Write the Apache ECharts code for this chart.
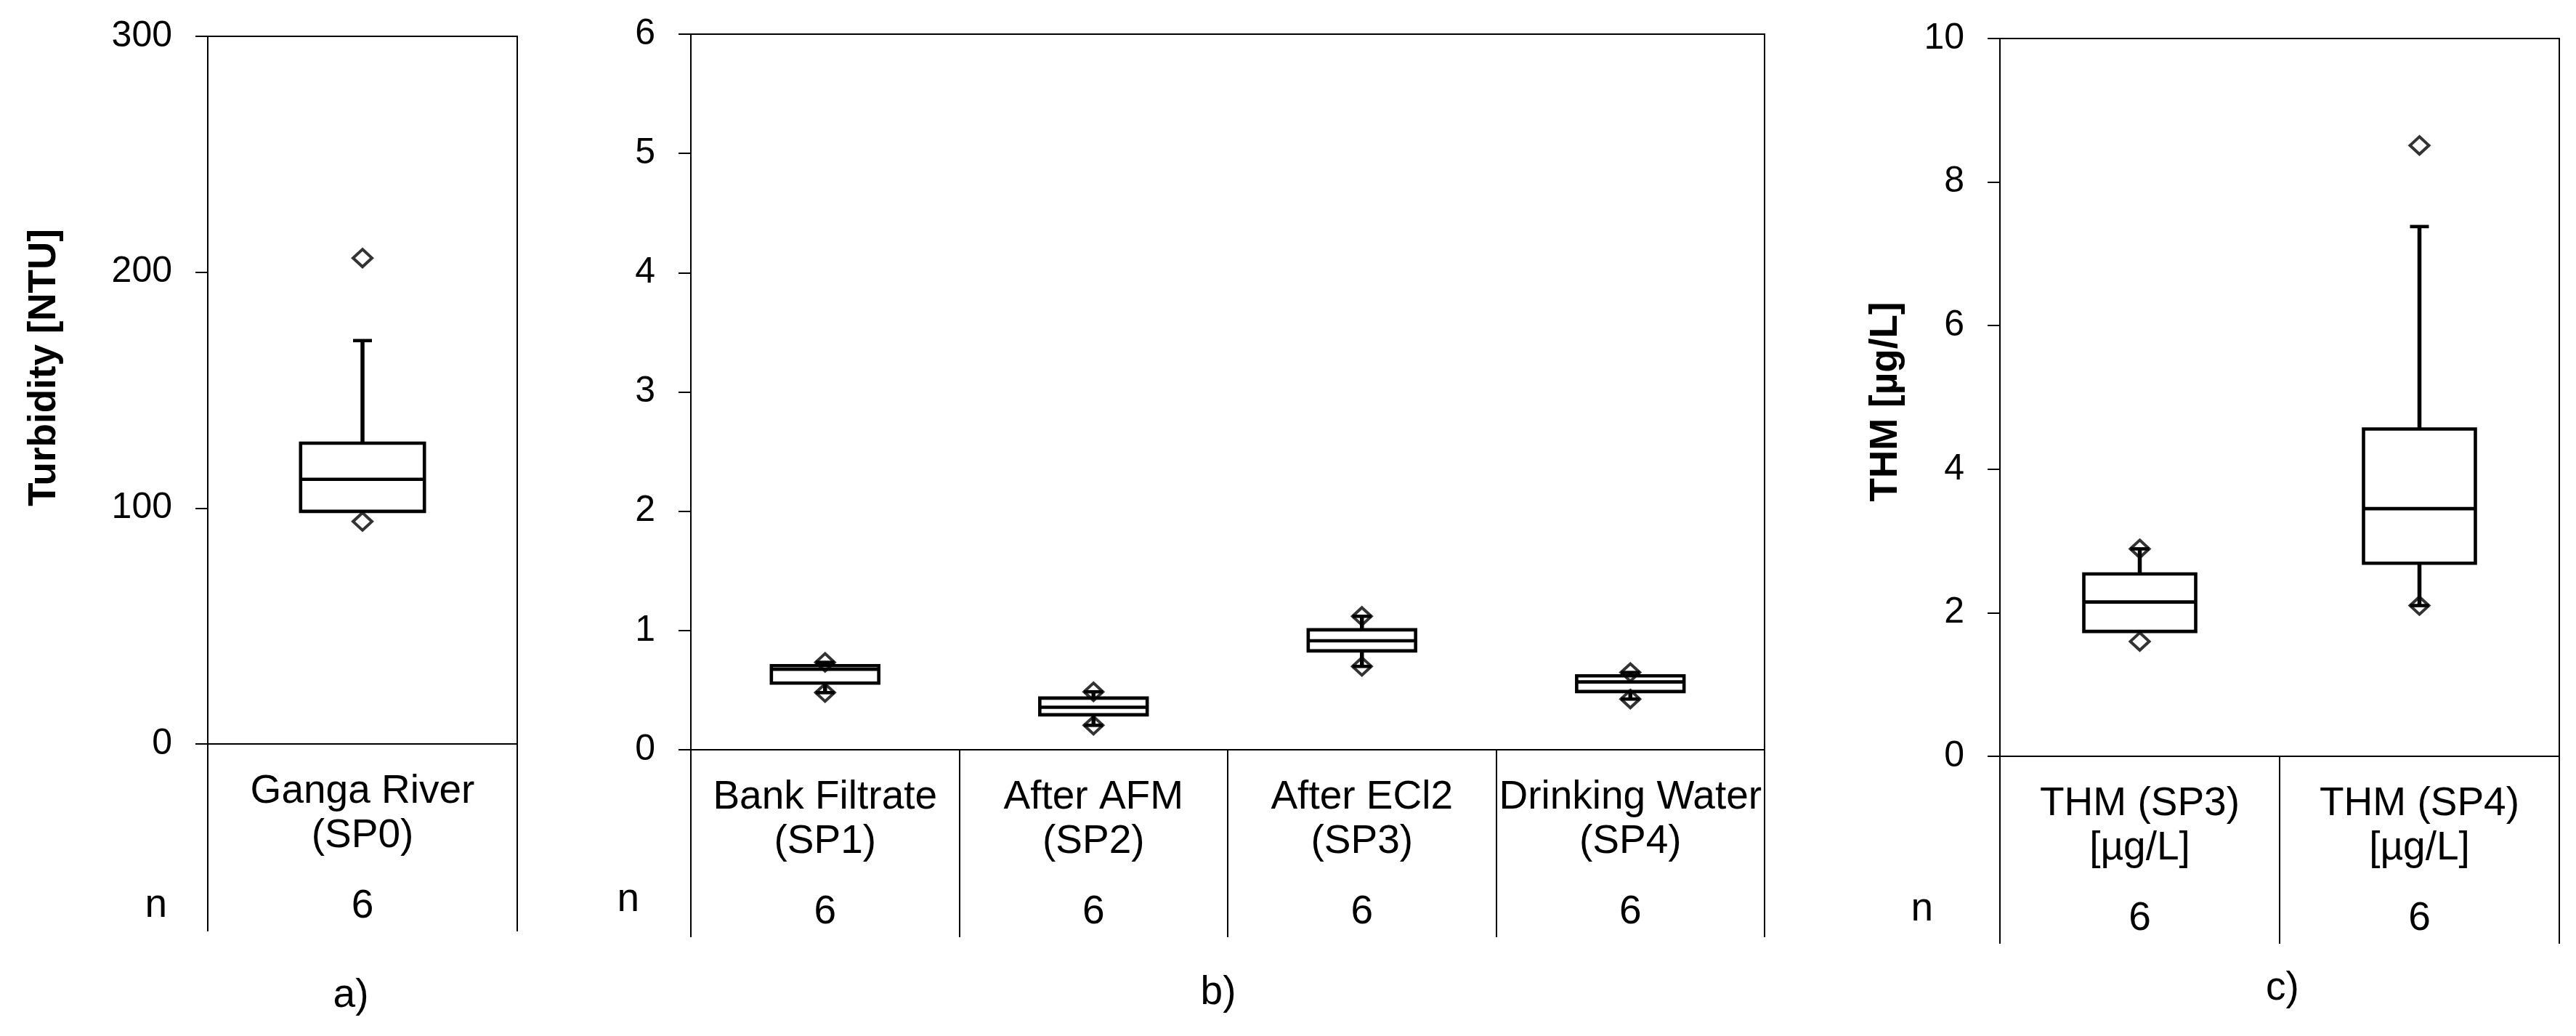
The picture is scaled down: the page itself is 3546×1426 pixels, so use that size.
<!DOCTYPE html>
<html>
<head>
<meta charset="utf-8">
<script src="https://cdn.jsdelivr.net/npm/echarts@6/dist/echarts.min.js"></script>
<style>
  html, body { margin: 0; padding: 0; background: #fff; }
  #chart { width: 3546px; height: 1426px; }
</style>
</head>
<body>
<div id="chart"></div>
<script>
// a) turbidity, Ganga River
var turbCats = ['Ganga River\n(SP0)'];
var turbN = [6];
var turbTicks = [0, 100, 200, 300];
var turbMin = [94.3];
var turbWhLow = [98.6];
var turbQ1 = [98.6];
var turbMed = [112.2];
var turbQ3 = [127.5];
var turbWhHigh = [171];
var turbMax = [206];

// b) turbidity after treatment steps
var treatCats = ['Bank Filtrate\n(SP1)', 'After AFM\n(SP2)', 'After ECl2\n(SP3)', 'Drinking Water\n(SP4)'];
var treatN = [6, 6, 6, 6];
var treatTicks = [0, 1, 2, 3, 4, 5, 6];
var treatMin = [0.479, 0.205, 0.699, 0.425];
var treatQ1 = [0.559, 0.293, 0.829, 0.488];
var treatMed = [0.675, 0.356, 0.914, 0.569];
var treatQ3 = [0.705, 0.433, 1.006, 0.620];
var treatMax = [0.733, 0.486, 1.119, 0.648];

// c) THM
var thmCats = ['THM (SP3)\n[µg/L]', 'THM (SP4)\n[µg/L]'];
var thmN = [6, 6];
var thmTicks = [0, 2, 4, 6, 8, 10];
var thmMin = [1.60, 2.10];
var thmWhLow = [1.74, 2.10];
var thmQ1 = [1.74, 2.69];
var thmMed = [2.15, 3.45];
var thmQ3 = [2.54, 4.56];
var thmWhHigh = [2.89, 7.38];
var thmMax = [2.89, 8.51];

var FONT = 'Liberation Sans, Arial, sans-serif';

function boxRows(lo, q1, med, q3, hi) {
  return q1.map(function (v, i) { return [i, lo[i], q1[i], med[i], q3[i], hi[i]]; });
}
function extremes(mn, mx) {
  var out = [];
  mn.forEach(function (v, i) { out.push([i, mn[i]]); out.push([i, mx[i]]); });
  return out;
}

// box + whiskers, positioned through the axes of the grid
function renderBox(params, api) {
  var i = api.value(0);
  var lo = api.coord([i, api.value(1)]);
  var q1 = api.coord([i, api.value(2)]);
  var md = api.coord([i, api.value(3)]);
  var q3 = api.coord([i, api.value(4)]);
  var hi = api.coord([i, api.value(5)]);
  var cx = q1[0];
  var bw = api.size([1, 0])[0] * 0.40;
  var cap = 13;
  var st = { stroke: '#000', lineWidth: 4.6, fill: null };
  var wh = { stroke: '#000', lineWidth: 5.5, fill: null };
  var kids = [];
  if (hi[1] < q3[1] - 1) {
    kids.push({ type: 'line', shape: { x1: cx, y1: q3[1], x2: cx, y2: hi[1] }, style: wh });
    kids.push({ type: 'line', shape: { x1: cx - cap, y1: hi[1], x2: cx + cap, y2: hi[1] }, style: st });
  }
  if (lo[1] > q1[1] + 1) {
    kids.push({ type: 'line', shape: { x1: cx, y1: q1[1], x2: cx, y2: lo[1] }, style: wh });
    kids.push({ type: 'line', shape: { x1: cx - cap, y1: lo[1], x2: cx + cap, y2: lo[1] }, style: st });
  }
  kids.push({ type: 'rect', shape: { x: cx - bw / 2, y: q3[1], width: bw, height: q1[1] - q3[1] },
    style: { stroke: '#000', lineWidth: 4.6, fill: '#fff' } });
  kids.push({ type: 'line', shape: { x1: cx - bw / 2, y1: md[1], x2: cx + bw / 2, y2: md[1] }, style: st });
  return { type: 'group', children: kids };
}

function makeGrid(left, top, width, height) {
  return { left: left, top: top, width: width, height: height, show: true,
    borderColor: '#000', borderWidth: 2, backgroundColor: 'transparent',
    containLabel: false, outerBoundsMode: 'none' };
}
function catAxis(idx, cats) {
  return {
    type: 'category', gridIndex: idx, data: cats, position: 'bottom',
    axisLine: { show: true, lineStyle: { color: '#000', width: 2 } },
    axisTick: { show: true, inside: false, length: 258, lineStyle: { color: '#000', width: 2 } },
    axisLabel: { interval: 0, margin: 35, color: '#000', fontFamily: FONT, fontSize: 55, lineHeight: 61 },
    splitLine: { show: false }
  };
}
function nAxis(idx, ns) {
  return {
    type: 'category', gridIndex: idx, data: ns.map(String), position: 'bottom', offset: 183,
    axisLine: { show: false }, axisTick: { show: false },
    axisLabel: { interval: 0, margin: 10, color: '#000', fontFamily: FONT, fontSize: 55, lineHeight: 61 },
    splitLine: { show: false }
  };
}
function valAxis(idx, ticks, name, gap, pad) {
  return {
    type: 'value', gridIndex: idx, min: ticks[0], max: ticks[ticks.length - 1],
    interval: ticks[1] - ticks[0],
    name: name, nameLocation: 'middle', nameGap: gap,
    nameTextStyle: { color: '#000', fontFamily: FONT, fontSize: 53, fontWeight: 'bold', padding: pad },
    axisLine: { show: true, lineStyle: { color: '#000', width: 2 } },
    axisTick: { show: true, inside: false, length: 17, lineStyle: { color: '#000', width: 2 } },
    axisLabel: { margin: 49, color: '#000', fontFamily: FONT, fontSize: 50 },
    splitLine: { show: false }
  };
}
function boxSeries(idx, rows) {
  return { type: 'custom', xAxisIndex: idx * 2, yAxisIndex: idx, renderItem: renderBox,
    encode: { x: 0, y: [1, 2, 3, 4, 5] }, data: rows, z: 2, silent: true };
}
function dotSeries(idx, pts) {
  return { type: 'scatter', xAxisIndex: idx * 2, yAxisIndex: idx, data: pts, z: 3, silent: true,
    symbol: 'diamond', symbolSize: [26, 24],
    itemStyle: { color: 'rgba(0,0,0,0)', borderColor: '#000', borderWidth: 4 } };
}
function txt(x, y, s, align) {
  return { type: 'text', x: x, y: y, style: { text: s, fill: '#000', font: '55px ' + FONT,
    textAlign: align, textVerticalAlign: 'middle', align: align, verticalAlign: 'middle' } };
}

var chart = echarts.init(document.getElementById('chart'), null, { renderer: 'canvas' });

var option = {
  backgroundColor: '#fff',
  animation: false,
  grid: [
    makeGrid(286, 50, 426, 974),
    makeGrid(951, 47, 1478, 985),
    makeGrid(2753, 53, 770, 988)
  ],
  xAxis: [
    catAxis(0, turbCats), nAxis(0, turbN),
    catAxis(1, treatCats), nAxis(1, treatN),
    catAxis(2, thmCats), nAxis(2, thmN)
  ],
  yAxis: [
    valAxis(0, turbTicks, 'Turbidity [NTU]', 198, [0, 0, 0, 62]),
    valAxis(1, treatTicks, '', 0, 0),
    valAxis(2, thmTicks, 'THM [µg/L]', 130, [0, 12, 0, 0])
  ],
  series: [
    boxSeries(0, boxRows(turbWhLow, turbQ1, turbMed, turbQ3, turbWhHigh)),
    dotSeries(0, extremes(turbMin, turbMax)),
    boxSeries(1, boxRows(treatMin, treatQ1, treatMed, treatQ3, treatMax)),
    dotSeries(1, extremes(treatMin, treatMax)),
    boxSeries(2, boxRows(thmWhLow, thmQ1, thmMed, thmQ3, thmWhHigh)),
    dotSeries(2, extremes(thmMin, thmMax))
  ],
  graphic: [
    txt(230, 1247, 'n', 'right'),
    txt(880, 1239, 'n', 'right'),
    txt(2661, 1252, 'n', 'right'),
    txt(483, 1371, 'a)', 'center'),
    txt(1677, 1367, 'b)', 'center'),
    txt(3142, 1361, 'c)', 'center')
  ]
};

chart.setOption(option);
</script>
</body>
</html>
